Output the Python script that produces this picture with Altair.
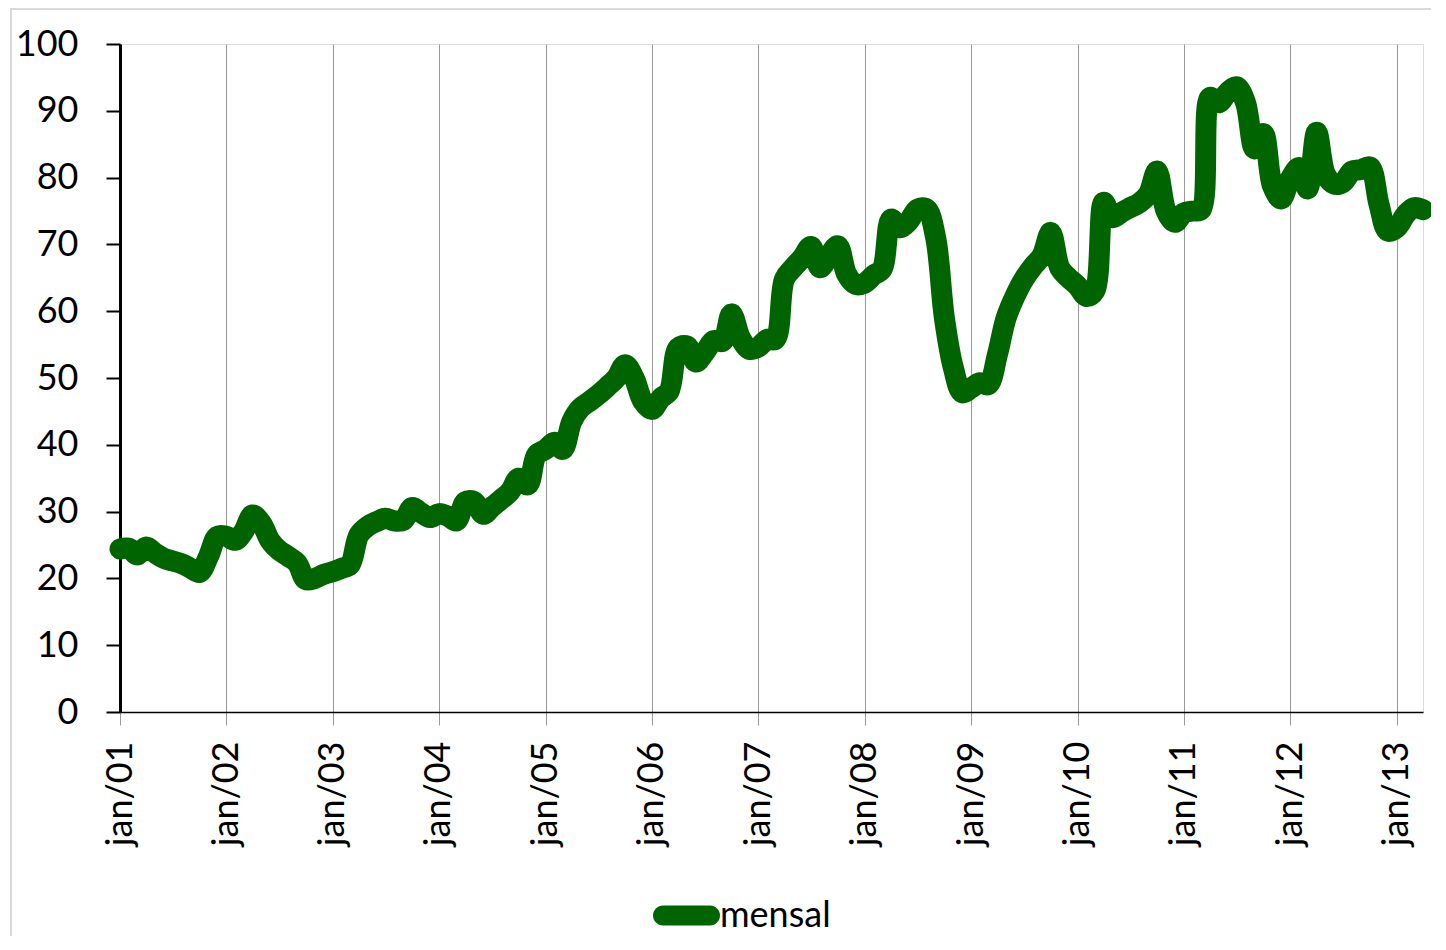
import altair as alt
import pandas as pd

# monthly series, jan/2001 .. apr/2013
valores_2001 = [24.4, 24.5, 23.5, 24.7, 23.8, 23.0, 22.6, 22.2, 21.5, 20.9, 23.3, 26.3]
valores_2002 = [26.3, 25.7, 27.0, 29.5, 28.3, 25.6, 24.2, 23.3, 22.3, 19.8, 20.0, 20.6]
valores_2003 = [21.0, 21.5, 22.0, 26.5, 27.8, 28.5, 29.0, 28.6, 28.7, 30.6, 29.8, 29.1]
valores_2004 = [29.7, 29.3, 28.6, 31.5, 31.5, 29.6, 30.7, 31.8, 33.0, 35.0, 34.0, 38.5]
valores_2005 = [39.3, 40.4, 39.3, 43.5, 45.5, 46.5, 47.5, 48.7, 50.0, 52.0, 50.0, 46.5]
valores_2006 = [45.3, 47.0, 48.0, 54.5, 54.8, 52.4, 53.8, 55.6, 55.5, 59.6, 56.0, 54.3]
valores_2007 = [54.6, 55.8, 55.8, 64.8, 66.5, 68.0, 69.7, 66.5, 68.3, 69.8, 65.5, 64.0]
valores_2008 = [64.2, 65.4, 66.3, 73.8, 72.5, 73.5, 75.3, 75.3, 71.0, 59.0, 51.5, 47.8]
valores_2009 = [48.5, 49.3, 49.0, 53.5, 59.0, 62.3, 64.8, 66.7, 68.3, 71.8, 66.5, 65.0]
valores_2010 = [63.8, 62.2, 63.0, 76.3, 74.0, 74.8, 75.5, 76.2, 77.5, 81.0, 75.0, 73.3]
valores_2011 = [74.7, 75.0, 75.2, 92.0, 91.2, 92.8, 93.6, 91.2, 84.3, 86.6, 78.8, 76.8]
valores_2012 = [79.8, 81.5, 78.3, 86.8, 80.5, 79.0, 79.3, 81.0, 81.2, 81.6, 76.0, 72.0]
valores_2013 = [72.5, 74.5, 75.5, 75.2]

valores = (valores_2001 + valores_2002 + valores_2003 + valores_2004 + valores_2005
           + valores_2006 + valores_2007 + valores_2008 + valores_2009 + valores_2010
           + valores_2011 + valores_2012 + valores_2013)

anos_ticks = list(range(2001, 2014))
y_ticks = list(range(0, 101, 10))
serie_nome = "mensal"

meses = pd.date_range("2001-01-01", periods=len(valores), freq="MS")
df = pd.DataFrame({"mes": meses, "valor": valores, "serie": serie_nome})

FONT = "Lato"
GREEN = "#006400"
FRAME = "#d9d9d9"

capsule = ("M-0.7015,-0.2985L0.7015,-0.2985A0.2985,0.2985,0,0,1,0.7015,0.2985"
           "L-0.7015,0.2985A0.2985,0.2985,0,0,1,-0.7015,-0.2985Z")

# light chart-area border (left and top edges)
frame_df = pd.DataFrame({"a": [0]})
frame_left = alt.Chart(frame_df).mark_rule(
    stroke=FRAME, strokeWidth=2, clip=False
).encode(x=alt.value(-109), y=alt.value(-36), y2=alt.value(1000))
frame_top = alt.Chart(frame_df).mark_rule(
    stroke=FRAME, strokeWidth=2, clip=False
).encode(x=alt.value(-110), x2=alt.value(1400), y=alt.value(-35))

line = alt.Chart(df).mark_line(
    strokeWidth=21, interpolate="catmull-rom", strokeCap="round", strokeJoin="round"
).encode(
    x=alt.X(
        "mes:T",
        scale=alt.Scale(
            domain=[alt.DateTime(year=2001, month=1, date=1),
                    alt.DateTime(year=2013, month=4, date=1)],
            nice=False,
        ),
        axis=alt.Axis(
            title=None,
            values=[alt.DateTime(year=a, month=1, date=1) for a in anos_ticks],
            labelExpr="'jan/' + timeFormat(datum.value, '%y')",
            labelAngle=-90,
            labelFont=FONT,
            labelFontSize=36,
            labelColor="black",
            labelPadding=16,
            labelOverlap=False,
            labelFlush=False,
            labelBound=False,
            grid=True,
            gridColor="#999999",
            gridWidth=1,
            tickColor="#999999",
            tickWidth=1,
            tickSize=13,
            domainColor="black",
            domainWidth=1.5,
        ),
    ),
    y=alt.Y(
        "valor:Q",
        scale=alt.Scale(domain=[0, 100], nice=False),
        axis=alt.Axis(
            title=None,
            values=y_ticks,
            labelFont=FONT,
            labelFontSize=36,
            labelColor="black",
            labelPadding=28,
            grid=False,
            tickColor="black",
            tickWidth=2,
            tickSize=14,
            domainColor="black",
            domainWidth=3,
            labelBound=False,
            labelFlush=False,
        ),
    ),
    color=alt.Color(
        "serie:N",
        scale=alt.Scale(range=[GREEN]),
        legend=alt.Legend(
            title=None,
            orient="none",
            legendX=533,
            legendY=838,
            direction="horizontal",
            padding=0,
            labelOffset=0,
            labelFont=FONT,
            labelFontSize=36,
            labelColor="black",
            symbolType=capsule,
            symbolSize=4489,
            symbolStrokeWidth=0,
            symbolFillColor=GREEN,
        ),
    ),
)

chart = alt.layer(frame_left, frame_top, line).properties(
    width=1303,
    height=668,
    autosize=alt.AutoSizeParams(type="none"),
    padding={"left": 112, "top": 36, "right": 8, "bottom": 224},
).configure_view(
    stroke="#595959", strokeWidth=1
).configure(background="white")

chart.save("out.html", embed_options={"renderer": "svg", "actions": False})
